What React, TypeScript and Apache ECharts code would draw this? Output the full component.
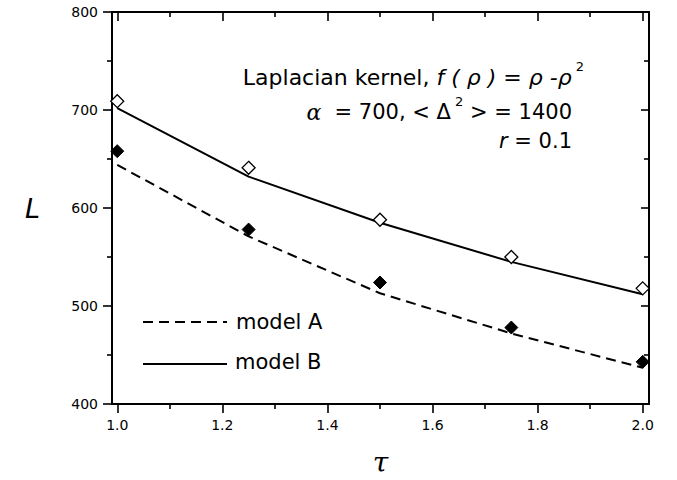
import React, { useEffect, useRef } from "react";
import * as echarts from "echarts";

const tau = [1.0, 1.25, 1.5, 1.75, 2.0];
const dataA = [658, 578, 524, 478, 443];
const dataB = [709, 641, 588, 550, 518];
const modelA = [644, 571, 513, 472, 437];
const modelB = [702, 632, 585, 545, 512];
const xMajor = [1.0, 1.2, 1.4, 1.6, 1.8, 2.0];
const xMinor = [1.1, 1.3, 1.5, 1.7, 1.9];

const FONT = "'DejaVu Sans', 'Liberation Sans', Arial, sans-serif";

const pairs = (ys: number[]) => tau.map((t, i) => [t, ys[i]]);

export default function App() {
  const ref = useRef<HTMLDivElement>(null);
  useEffect(() => {
    if (!ref.current) return;
    const chart = echarts.init(ref.current, undefined, { renderer: "svg" });
    const tickStyle = { color: "#000", width: 1.6 };
    const xBase = { type: "value", min: 0.99, max: 2.012, splitLine: { show: false } };
    const axisLine = { show: true, onZero: false, lineStyle: { color: "#000", width: 2 } };
    const noLine = { show: false, onZero: false };
    const yBase = {
      type: "value",
      min: 400,
      max: 800,
      interval: 100,
      splitLine: { show: false },
      minorSplitLine: { show: false },
    };
    const option = {
      animation: false,
      backgroundColor: "#fff",
      grid: { left: 112, right: 28, top: 12, bottom: 76, outerBoundsMode: "none" },
      xAxis: [
        {
          ...xBase,
          position: "bottom",
          axisLine,
          axisTick: { show: true, customValues: xMajor, length: 9, lineStyle: tickStyle },
          axisLabel: {
            show: true,
            customValues: xMajor,
            formatter: (v: number) => v.toFixed(1),
            margin: 14,
            color: "#000",
            fontSize: 14,
            fontFamily: FONT,
          },
          name: "τ",
          nameLocation: "middle",
          nameGap: 44,
          nameTextStyle: { fontFamily: "'DejaVu Serif', 'Liberation Serif', serif", fontStyle: "italic", fontSize: 28, color: "#000" },
        },
        {
          ...xBase,
          position: "bottom",
          axisLine: noLine,
          axisTick: { show: true, customValues: xMinor, length: 5, lineStyle: tickStyle },
          axisLabel: { show: false },
        },
        {
          ...xBase,
          position: "top",
          axisLine,
          axisTick: { show: true, inside: true, customValues: xMajor, length: 9, lineStyle: tickStyle },
          axisLabel: { show: true, customValues: xMajor, formatter: () => "" },
        },
        {
          ...xBase,
          position: "top",
          axisLine: noLine,
          axisTick: { show: true, inside: true, customValues: xMinor, length: 5, lineStyle: tickStyle },
          axisLabel: { show: false },
        },
      ],
      yAxis: [
        {
          ...yBase,
          position: "left",
          axisLine,
          axisTick: { show: true, length: 9, lineStyle: tickStyle },
          minorTick: { show: true, splitNumber: 2, length: 5, lineStyle: tickStyle },
          axisLabel: { show: true, margin: 14, color: "#000", fontSize: 14, fontFamily: FONT },
          name: "L",
          nameLocation: "middle",
          nameRotate: 0,
          nameGap: 72,
          nameTextStyle: { fontFamily: FONT, fontStyle: "italic", fontSize: 27, color: "#000" },
        },
        {
          ...yBase,
          position: "right",
          axisLine,
          axisTick: { show: true, inside: true, length: 8, lineStyle: tickStyle },
          minorTick: { show: true, splitNumber: 2, length: 5, lineStyle: tickStyle },
          axisLabel: { show: true, formatter: () => "" },
        },
      ],
      series: [
        {
          name: "model A",
          type: "line",
          data: pairs(modelA),
          symbol: "none",
          lineStyle: { color: "#000", width: 2, type: [10, 6] },
          itemStyle: { color: "#000" },
          z: 2,
        },
        {
          name: "model B",
          type: "line",
          data: pairs(modelB),
          symbol: "none",
          lineStyle: { color: "#000", width: 2, type: "solid" },
          itemStyle: { color: "#000" },
          z: 2,
        },
        {
          name: "data A",
          type: "scatter",
          data: pairs(dataA),
          symbol: "diamond",
          symbolSize: [13, 13],
          itemStyle: { color: "#000", borderColor: "#000", borderWidth: 1, opacity: 1 },
          z: 3,
        },
        {
          name: "data B",
          type: "scatter",
          data: pairs(dataB),
          symbol: "diamond",
          symbolSize: [13, 13],
          itemStyle: { color: "#fff", borderColor: "#000", borderWidth: 1.3, opacity: 1 },
          z: 3,
        },
      ],
      graphic: [
        { type: "line", shape: { x1: 143, y1: 322, x2: 227, y2: 322 }, style: { stroke: "#000", lineWidth: 2, lineDash: [10, 6] } },
        { type: "text", x: 236, y: 322, style: { text: "model A", fontSize: 21, fontFamily: FONT, fill: "#000", verticalAlign: "middle", align: "left" } },
        { type: "line", shape: { x1: 143, y1: 364, x2: 227, y2: 364 }, style: { stroke: "#000", lineWidth: 2 } },
        { type: "text", x: 235, y: 362, style: { text: "model B", fontSize: 21, fontFamily: FONT, fill: "#000", verticalAlign: "middle", align: "left" } },
        {
          type: "text",
          x: 584,
          y: 77,
          style: {
            text: "{n|Laplacian kernel, }{i|f ( ρ )}{n| = }{i|ρ -ρ}{s| 2}",
            align: "right",
            verticalAlign: "middle",
            fill: "#000",
            fontFamily: FONT,
            fontSize: 22,
            rich: {
              n: { fontSize: 22, fontFamily: FONT, lineHeight: 34, fill: "#000" },
              i: { fontSize: 22, fontFamily: FONT, fontStyle: "italic", lineHeight: 34, fill: "#000" },
              s: { fontSize: 13, fontFamily: FONT, lineHeight: 13, verticalAlign: "top", fill: "#000" },
            },
          },
        },
        {
          type: "text",
          x: 572,
          y: 112,
          style: {
            text: "{i|α}{n|  = 700, < Δ}{s| 2}{n| > = 1400}",
            align: "right",
            verticalAlign: "middle",
            fill: "#000",
            fontFamily: FONT,
            fontSize: 21,
            rich: {
              n: { fontSize: 21, fontFamily: FONT, lineHeight: 34, fill: "#000" },
              i: { fontSize: 22, fontFamily: "'DejaVu Serif', serif", fontStyle: "italic", lineHeight: 34, fill: "#000" },
              s: { fontSize: 13, fontFamily: FONT, lineHeight: 13, verticalAlign: "top", fill: "#000" },
            },
          },
        },
        {
          type: "text",
          x: 572,
          y: 141,
          style: {
            text: "{i|r}{n| = 0.1}",
            align: "right",
            verticalAlign: "middle",
            fill: "#000",
            fontFamily: FONT,
            fontSize: 21,
            rich: {
              n: { fontSize: 21, fontFamily: FONT, lineHeight: 30, fill: "#000" },
              i: { fontSize: 21, fontFamily: FONT, fontStyle: "italic", lineHeight: 30, fill: "#000" },
            },
          },
        },
      ],
    };
    chart.setOption(option as any);
    return () => chart.dispose();
  }, []);
  return <div ref={ref} style={{ width: 677, height: 480, position: "absolute", left: 0, top: 0 }} />;
}
